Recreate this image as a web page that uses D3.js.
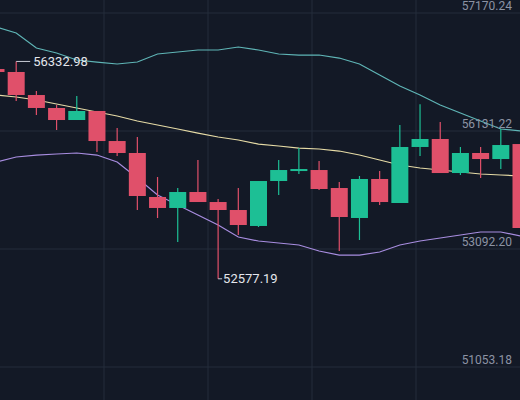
<!DOCTYPE html>
<html><head><meta charset="utf-8">
<script src="https://cdn.jsdelivr.net/npm/d3@7"></script>
<style>html,body{margin:0;padding:0;background:#131926;}svg{display:block}</style>
</head><body><svg id="c" width="520" height="400"></svg>
<script>
const opens  = [56202,56151,55753,55529,55321,55477,54958,54751,53991,53801,54077,53904,53766,53490,54267,54440,54457,54146,53628,54302,53887,54855,54993,54405,54751,54647,54906];
const highs  = [56220,56332.98,55822,55580,55736,55477,55183,55027,54336,54146,54630,53956,54146,54267,54630,54837,54613,54250,54354,54440,55235,55594,55287,54855,54855,55166,55000];
const lows   = [56130,55649,55408,55148,55321,54768,54699,53766,53628,53213,53904,52577.19,53334,53472,54025,54388,54112,53058,53248,53852,53887,54699,54405,54371,54319,54474,53200];
const closes = [56151,55753,55529,55321,55477,54958,54751,54008,53801,54077,53904,53766,53507,54267,54457,54474,54129,53645,54302,53904,54855,54993,54405,54751,54647,54889,53455];
const upper  = [56928,56824,56565,56479,56358,56323,56289,56323,56462,56496,56531,56531,56583,56531,56462,56444,56444,56392,56289,56099,55909,55753,55581,55442,55304,55166,55131];
const middle = [55753,55719,55667,55598,55529,55459,55390,55304,55235,55166,55096,55027,54976,54906,54872,54837,54820,54785,54716,54630,54544,54492,54457,54423,54388,54371,54353];
const lower  = [54595,54682,54716,54734,54751,54716,54595,54319,54025,53852,53680,53507,53299,53230,53196,53161,53058,52988,52988,53040,53161,53230,53282,53334,53386,53386,53317];
const tickValues = [57170.24,55131.22,53092.20,51053.18];
const tickLabels = ["57170.24","56131.22","53092.20","51053.18"];
const hiIdx = 1, loIdx = 11;

const svg = d3.select("#c");
const W=520,H=400;
svg.append("rect").attr("width",W).attr("height",H).attr("fill","#131926");
const x = d3.scaleLinear().domain([0,opens.length-1]).range([-4,521]);
const y = d3.scaleLinear().domain([51053.18,57170.24]).range([367,13]);
const idx = d3.range(opens.length);

[104,208,312,416].forEach(v=>svg.append("line").attr("x1",v).attr("x2",v).attr("y1",0).attr("y2",H).attr("stroke","#252c3b").attr("stroke-width",1));
tickValues.forEach(v=>svg.append("line").attr("x1",0).attr("x2",W).attr("y1",y(v)).attr("y2",y(v)).attr("stroke","#252c3b").attr("stroke-width",1));

const line = arr => d3.line().x(i=>x(i)).y(i=>y(arr[i]))(idx);
svg.append("path").attr("d",line(upper)).attr("fill","none").attr("stroke","#5fb5b6").attr("stroke-width",1.2);
svg.append("path").attr("d",line(middle)).attr("fill","none").attr("stroke","#e6dba6").attr("stroke-width",1.2);
svg.append("path").attr("d",line(lower)).attr("fill","none").attr("stroke","#a88de0").attr("stroke-width",1.2);

const up="#1dbf95", dn="#e0506a", bw=17;
idx.forEach(i=>{
  const col = closes[i]>=opens[i]?up:dn;
  svg.append("line").attr("x1",x(i)).attr("x2",x(i)).attr("y1",y(highs[i])).attr("y2",y(lows[i])).attr("stroke",col).attr("stroke-width",1.2);
  const t=y(Math.max(opens[i],closes[i])), b=y(Math.min(opens[i],closes[i]));
  svg.append("rect").attr("x",x(i)-bw/2).attr("y",t).attr("width",bw).attr("height",Math.max(2,b-t)).attr("fill",col);
});

tickValues.forEach((v,k)=>svg.append("text").attr("x",512).attr("y",y(v)-3).attr("text-anchor","end")
  .attr("font-family","Roboto, 'DejaVu Sans', sans-serif").attr("font-size",12).attr("fill","#8c93a4").text(tickLabels[k]));

const hx=x(hiIdx), hy=y(highs[hiIdx]);
svg.append("line").attr("x1",hx).attr("x2",hx+14).attr("y1",hy).attr("y2",hy).attr("stroke","#c8ccd6").attr("stroke-width",1);
svg.append("text").attr("x",hx+17).attr("y",hy+4.5).attr("font-family","Roboto, 'DejaVu Sans', sans-serif").attr("font-size",13).attr("fill","#e4e6ec").text(highs[hiIdx].toFixed(2));
const lx=x(loIdx), ly=y(lows[loIdx]);
svg.append("line").attr("x1",lx).attr("x2",lx+4).attr("y1",ly).attr("y2",ly).attr("stroke","#c8ccd6").attr("stroke-width",1);
svg.append("text").attr("x",lx+5).attr("y",ly+4.5).attr("font-family","Roboto, 'DejaVu Sans', sans-serif").attr("font-size",13).attr("fill","#e4e6ec").text(lows[loIdx].toFixed(2));
</script></body></html>
